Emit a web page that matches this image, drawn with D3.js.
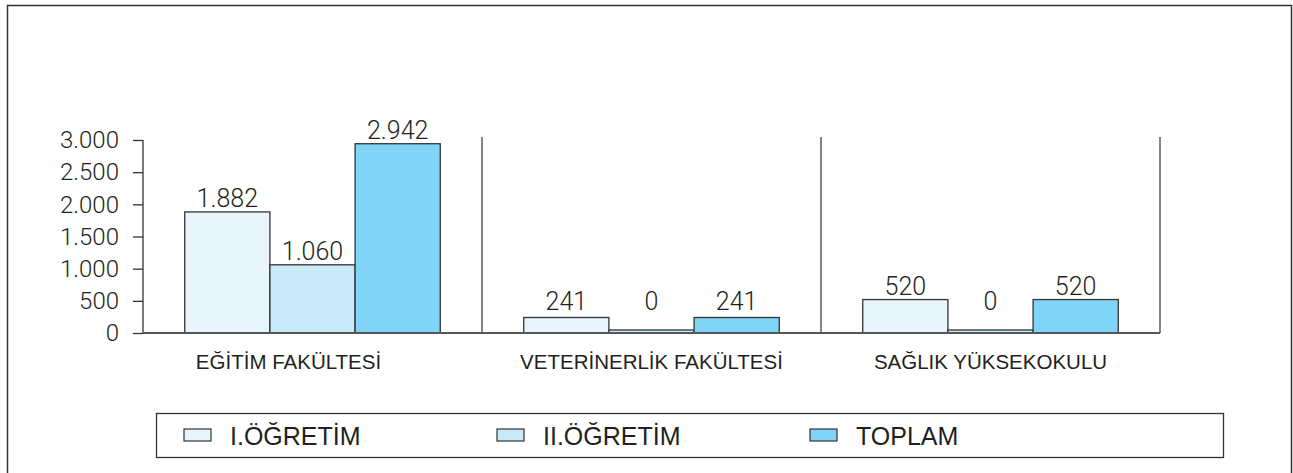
<!DOCTYPE html>
<html>
<head>
<meta charset="utf-8">
<script src="https://cdn.jsdelivr.net/npm/d3@7"></script>
<style>
  body { margin: 0; background: #fff; }
  svg { display: block; }
</style>
</head>
<body>
<svg id="chart" width="1293" height="473"></svg>
<script>
var categories = ["EĞİTİM FAKÜLTESİ", "VETERİNERLİK FAKÜLTESİ", "SAĞLIK YÜKSEKOKULU"];
var series = ["I.ÖĞRETİM", "II.ÖĞRETİM", "TOPLAM"];
var firstShift = [1882, 241, 520];
var secondShift = [1060, 0, 0];
var totals = [2942, 241, 520];
var yTicks = [0, 500, 1000, 1500, 2000, 2500, 3000];

var colors = ["#e8f5fc", "#c7e9f8", "#80d4f6"];
var ink = "#231f20";
var numFont = "Roboto, 'Liberation Sans', sans-serif";
var txtFont = "'Liberation Sans', Arial, sans-serif";

var svg = d3.select("#chart");

// outer frame
svg.append("rect")
    .attr("x", 7.5).attr("y", 5.5)
    .attr("width", 1284).attr("height", 480)
    .attr("fill", "none").attr("stroke", "#333").attr("stroke-width", 1.5);

var plot = {left: 143, right: 1160, top: 140, bottom: 333};

var trLocale = d3.formatLocale({decimal: ",", thousands: ".", grouping: [3], currency: ["", ""]});
var fmt = trLocale.format(",");

var x0 = d3.scaleBand().domain(categories).range([plot.left, plot.right]);
var x1 = d3.scaleBand().domain(series).range([0, x0.bandwidth()]).paddingInner(0).paddingOuter(0.49);
var y = d3.scaleLinear().domain([0, 3000]).range([plot.bottom, plot.top]);

var rows = categories.map(function (c, i) {
    return {cat: c, values: [firstShift[i], secondShift[i], totals[i]]};
});

// separators between groups
svg.append("g").selectAll("line")
    .data(categories)
    .enter().append("line")
    .attr("x1", function (d) { return x0(d) + x0.bandwidth(); })
    .attr("x2", function (d) { return x0(d) + x0.bandwidth(); })
    .attr("y1", plot.top - 3).attr("y2", plot.bottom)
    .attr("stroke", "#333").attr("stroke-width", 1.2);

// y axis
var yAxis = d3.axisLeft(y).tickValues(yTicks).tickFormat(fmt).tickSize(10).tickPadding(14);
var gy = svg.append("g")
    .attr("transform", "translate(" + plot.left + ",0)")
    .call(yAxis);
gy.select(".domain").attr("stroke", "#333").attr("stroke-width", 1.3).attr("d", "M0," + plot.top + "V" + plot.bottom);
gy.selectAll(".tick line").attr("stroke", "#333").attr("stroke-width", 1.3);
gy.selectAll(".tick text")
    .attr("fill", ink)
    .style("font-family", numFont)
    .style("font-weight", 300)
    .style("font-size", "24px");

// bars
var groups = svg.append("g").selectAll("g")
    .data(rows)
    .enter().append("g")
    .attr("transform", function (d) { return "translate(" + x0(d.cat) + ",0)"; });

groups.selectAll("rect")
    .data(function (d) { return d.values.map(function (v, j) { return {s: series[j], v: v, j: j}; }); })
    .enter().append("rect")
    .attr("x", function (d) { return x1(d.s); })
    .attr("width", x1.bandwidth())
    .attr("y", function (d) { return Math.min(y(d.v), plot.bottom - 3); })
    .attr("height", function (d) { return Math.max(plot.bottom - y(d.v), 3); })
    .attr("fill", function (d) { return colors[d.j]; })
    .attr("stroke", "#333").attr("stroke-width", 1.3);

groups.selectAll("text")
    .data(function (d) { return d.values.map(function (v, j) { return {s: series[j], v: v, j: j}; }); })
    .enter().append("text")
    .attr("x", function (d) { return x1(d.s) + x1.bandwidth() / 2; })
    .attr("y", function (d) { return Math.min(y(d.v), plot.bottom - 18) - 5; })
    .attr("text-anchor", "middle")
    .attr("fill", ink)
    .style("font-family", numFont)
    .style("font-weight", 300)
    .style("font-size", "25px")
    .text(function (d) { return fmt(d.v); });

// baseline
svg.append("line")
    .attr("x1", plot.left).attr("x2", plot.right)
    .attr("y1", plot.bottom).attr("y2", plot.bottom)
    .attr("stroke", "#555").attr("stroke-width", 2);

// category labels
svg.append("g").selectAll("text")
    .data(categories)
    .enter().append("text")
    .attr("x", function (d, i) { return x0(d) + x0.bandwidth() / 2 - (i === 0 ? 24 : 0); })
    .attr("y", 369)
    .attr("text-anchor", "middle")
    .attr("fill", ink)
    .style("font-family", txtFont)
    .style("font-size", "20.5px")
    .text(function (d) { return d; });

// legend
var legend = svg.append("g");
legend.append("rect")
    .attr("x", 156.5).attr("y", 413.5)
    .attr("width", 1067).attr("height", 44)
    .attr("fill", "#fff").attr("stroke", "#333").attr("stroke-width", 1.3);

var lx = d3.scaleBand().domain(series).range([184, 184 + 3 * 313]);
var items = legend.selectAll("g.item")
    .data(series)
    .enter().append("g")
    .attr("class", "item")
    .attr("transform", function (d) { return "translate(" + lx(d) + ",429)"; });
items.append("rect")
    .attr("width", 27).attr("height", 12)
    .attr("fill", function (d, i) { return colors[i]; })
    .attr("stroke", "#333").attr("stroke-width", 1.2);
items.append("text")
    .attr("x", 46).attr("y", 16)
    .attr("fill", ink)
    .style("font-family", txtFont)
    .style("font-size", "25px")
    .text(function (d) { return d; });
</script>
</body>
</html>
